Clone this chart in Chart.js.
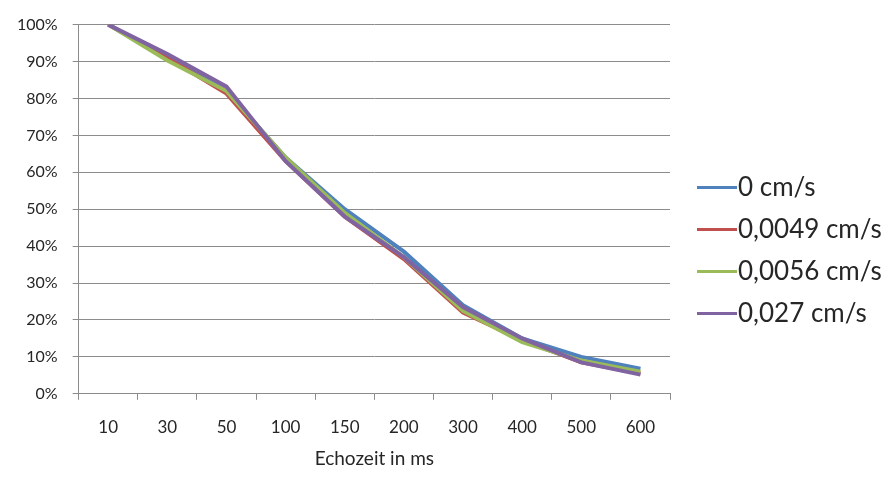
<!DOCTYPE html>
<html>
<head>
<meta charset="utf-8">
<script src="https://cdn.jsdelivr.net/npm/chart.js@4/dist/chart.umd.min.js"></script>
<style>
  html, body { margin: 0; padding: 0; background: #ffffff; }
  #wrap { width: 888px; height: 480px; position: relative; }
</style>
</head>
<body>
<div id="wrap"><canvas id="c" width="888" height="480"></canvas></div>
<script>
// Echo times (ms) on the category axis
const echoTimes = ['10', '30', '50', '100', '150', '200', '300', '400', '500', '600'];

// Relative signal (%) per flow velocity
const flow0     = [100, 91, 82, 64, 50, 38.5, 24, 15, 10, 6.8];
const flow0049  = [100, 91, 81.3, 63, 48, 36.5, 22, 14.5, 8.5, 5.5];
const flow0056  = [100, 90.3, 82, 64, 49, 37, 22.5, 14, 9, 6];
const flow027   = [100, 92, 83.2, 63, 48, 37, 23.5, 15, 8.5, 5.2];

const seriesNames = ['0 cm/s', '0,0049 cm/s', '0,0056 cm/s', '0,027 cm/s'];
const seriesColors = ['#4F81BD', '#C0504D', '#9BBB59', '#8064A2'];

const yTicks = [0, 10, 20, 30, 40, 50, 60, 70, 80, 90, 100];

const fontFamily = 'Lato, "Open Sans", sans-serif';
const textColor = '#262626';
const gridColor = '#8c8c8c';

const seriesData = [flow0, flow0049, flow0056, flow027];

const datasets = seriesData.map((values, i) => ({
  label: seriesNames[i],
  data: values,
  borderColor: seriesColors[i],
  backgroundColor: seriesColors[i],
  borderWidth: 4,
  pointRadius: 0,
  pointHoverRadius: 0,
  tension: 0,
  fill: false,
  // later series are painted on top
  order: seriesData.length - 1 - i
}));

// Legend to the right of the plot: a short line sample followed by the label
const sideLegend = {
  id: 'sideLegend',
  afterDraw(chart) {
    const ctx = chart.ctx;
    const x0 = 697;
    const sample = 40;
    const step = 42;
    const n = chart.data.datasets.length;
    const yStart = chart.height / 2 + 10 - step * (n - 1) / 2;
    ctx.save();
    ctx.font = '26px ' + fontFamily;
    ctx.textBaseline = 'middle';
    ctx.textAlign = 'left';
    chart.data.datasets.forEach((ds, i) => {
      const y = Math.round(yStart + i * step) + 0.5;
      ctx.strokeStyle = ds.borderColor;
      ctx.lineWidth = 3;
      ctx.beginPath();
      ctx.moveTo(x0, y);
      ctx.lineTo(x0 + sample, y);
      ctx.stroke();
      ctx.fillStyle = textColor;
      ctx.fillText(ds.label, x0 + sample + 1, y);
    });
    ctx.restore();
  }
};

new Chart(document.getElementById('c'), {
  type: 'line',
  data: { labels: echoTimes, datasets },
  plugins: [sideLegend],
  options: {
    responsive: false,
    animation: false,
    events: [],
    layout: { padding: { top: 18, right: 218, bottom: 10, left: 2 } },
    plugins: {
      tooltip: { enabled: false },
      legend: { display: false }
    },
    scales: {
      x: {
        type: 'category',
        offset: true,
        grid: {
          offset: true,
          drawOnChartArea: false,
          drawTicks: true,
          tickLength: 6,
          color: gridColor
        },
        border: { color: gridColor, width: 1 },
        ticks: {
          color: textColor,
          font: { family: fontFamily, size: 17 },
          padding: 18,
          maxRotation: 0
        },
        title: {
          display: true,
          text: 'Echozeit in ms',
          color: textColor,
          font: { family: fontFamily, size: 19 },
          padding: { top: -9, bottom: 0 }
        }
      },
      y: {
        min: 0,
        max: 100,
        afterBuildTicks: (scale) => { scale.ticks = yTicks.map(v => ({ value: v })); },
        grid: {
          color: gridColor,
          lineWidth: 1,
          drawTicks: true,
          tickLength: 6
        },
        border: { color: gridColor, width: 1 },
        ticks: {
          color: textColor,
          font: { family: fontFamily, size: 16 },
          padding: 15,
          callback: (v) => v + '%'
        }
      }
    }
  }
});
</script>
</body>
</html>
